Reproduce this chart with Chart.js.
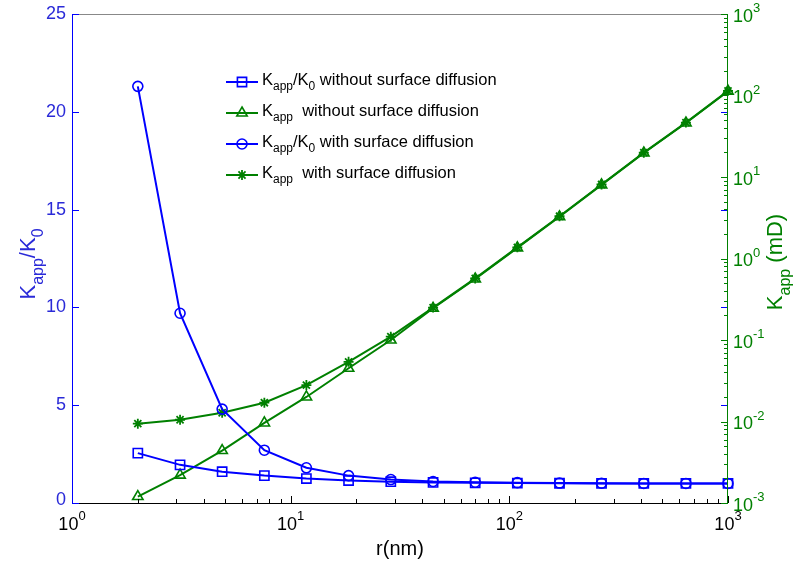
<!DOCTYPE html>
<html>
<head>
<meta charset="utf-8">
<script src="https://cdn.jsdelivr.net/npm/chart.js@4"></script>
<style>
  body { margin: 0; background: #fff; }
  canvas { display: block; }
</style>
</head>
<body>
<canvas id="grafico" width="797" height="562"></canvas>
<script>
// radios (nm)
const radios = [2, 3.12, 4.86, 7.58, 11.8, 18.4, 28.7, 44.8, 69.8, 108.8, 169.6, 264, 412, 642, 1000];
// Kapp/K0 (eje izquierdo)
const ratioSinDifusion = [2.55, 1.95, 1.6, 1.4, 1.25, 1.15, 1.09, 1.05, 1.03, 1.02, 1.01, 1.0, 1.0, 1.0, 1.0];
const ratioConDifusion = [21.3, 9.7, 4.8, 2.7, 1.8, 1.4, 1.2, 1.1, 1.06, 1.04, 1.02, 1.01, 1.0, 1.0, 1.0];
// Kapp en mD (eje derecho, log)
const kappSinDifusion = [0.0012, 0.0022, 0.0044, 0.0096, 0.020, 0.045, 0.10, 0.245, 0.56, 1.35, 3.25, 8.0, 19.7, 46, 113];
const kappConDifusion = [0.0094, 0.0105, 0.0128, 0.017, 0.028, 0.054, 0.11, 0.25, 0.57, 1.37, 3.3, 8.1, 19.9, 46.5, 114];
// ticks
const ticksX = [1, 10, 100, 1000];
const ticksIzq = [0, 5, 10, 15, 20, 25];
const ticksDer = [0.001, 0.01, 0.1, 1, 10, 100, 1000];

const AZUL = '#0000ff';
const VERDE = '#008000';
const FUENTE = '"Liberation Sans", Arial, sans-serif';

function puntos(ys) {
  return radios.map((x, i) => ({ x: x, y: ys[i] }));
}

// texto con sub/superindices: partes = [[texto, 'n'|'sub'|'sup'], ...]
function textoRico(ctx, partes, x, y, size, align) {
  const medir = p => {
    ctx.font = (p[1] === 'n' ? size : Math.round(size * 0.72)) + 'px ' + FUENTE;
    return ctx.measureText(p[0]).width;
  };
  const total = partes.reduce((s, p) => s + medir(p), 0);
  let cx = align === 'center' ? x - total / 2 : (align === 'right' ? x - total : x);
  ctx.textAlign = 'left';
  ctx.textBaseline = 'middle';
  partes.forEach(p => {
    const w = medir(p);
    let dy = 0;
    if (p[1] === 'sub') dy = size * 0.42;
    if (p[1] === 'sup') dy = -size * 0.45;
    ctx.fillText(p[0], cx, y + dy);
    cx += w;
  });
}

const ejesPlugin = {
  id: 'ejes',
  afterDraw(chart) {
    const ctx = chart.ctx;
    const a = chart.chartArea;
    const sx = chart.scales.x, sy = chart.scales.y, sy2 = chart.scales.y2;
    ctx.save();
    ctx.lineWidth = 1;

    // marco superior
    ctx.strokeStyle = '#888';
    ctx.beginPath(); ctx.moveTo(a.left, a.top + 0.5); ctx.lineTo(a.right, a.top + 0.5); ctx.stroke();

    // eje x
    ctx.strokeStyle = '#000';
    ctx.beginPath(); ctx.moveTo(a.left, a.bottom + 0.5); ctx.lineTo(a.right, a.bottom + 0.5); ctx.stroke();
    for (let d = 1; d < 1000; d *= 10) {
      for (let m = 1; m <= 10; m++) {
        const px = Math.round(sx.getPixelForValue(d * m)) + 0.5;
        const len = (m === 1 || m === 10) ? 7 : 4;
        ctx.beginPath(); ctx.moveTo(px, a.bottom); ctx.lineTo(px, a.bottom - len); ctx.stroke();
      }
    }
    ctx.fillStyle = '#000';
    ticksX.forEach(v => {
      const px = sx.getPixelForValue(v);
      textoRico(ctx, [['10', 'n'], [String(Math.round(Math.log10(v))), 'sup']], px, a.bottom + 22, 18, 'center');
    });
    ctx.font = '20px ' + FUENTE;
    ctx.textAlign = 'center'; ctx.textBaseline = 'middle';
    ctx.fillText('r(nm)', (a.left + a.right) / 2, a.bottom + 46);

    // eje izquierdo
    ctx.strokeStyle = AZUL;
    ctx.beginPath(); ctx.moveTo(a.left + 0.5, a.top); ctx.lineTo(a.left + 0.5, a.bottom); ctx.stroke();
    ctx.fillStyle = '#2a2ad8';
    ticksIzq.forEach(v => {
      const py = Math.round(sy.getPixelForValue(v)) + 0.5;
      ctx.beginPath(); ctx.moveTo(a.left, py); ctx.lineTo(a.left + 7, py); ctx.stroke();
      ctx.beginPath(); ctx.moveTo(a.right, py); ctx.lineTo(a.right - 7, py); ctx.stroke();
      ctx.font = '18px ' + FUENTE;
      ctx.textAlign = 'right'; ctx.textBaseline = 'middle';
      ctx.fillText(String(v), a.left - 6, py - (v === 0 ? 3 : 0));
    });
    ctx.save();
    ctx.translate(29, 264);
    ctx.rotate(-Math.PI / 2);
    textoRico(ctx, [['K', 'n'], ['app', 'sub'], ['/K', 'n'], ['0', 'sub']], 0, 0, 22, 'center');
    ctx.restore();

    // eje derecho (log)
    ctx.strokeStyle = VERDE;
    ctx.beginPath(); ctx.moveTo(a.right - 0.5, a.top); ctx.lineTo(a.right - 0.5, a.bottom); ctx.stroke();
    for (let d = 0.001; d < 999; d *= 10) {
      for (let m = 1; m <= 10; m++) {
        const py = Math.round(sy2.getPixelForValue(d * m)) + 0.5;
        const len = (m === 1 || m === 10) ? 7 : 4;
        ctx.beginPath(); ctx.moveTo(a.right, py); ctx.lineTo(a.right - len, py); ctx.stroke();
      }
    }
    ctx.fillStyle = VERDE;
    ticksDer.forEach(v => {
      const py = sy2.getPixelForValue(v);
      textoRico(ctx, [['10', 'n'], [String(Math.round(Math.log10(v))), 'sup']], a.right + 5, py + 3, 18, 'left');
    });
    ctx.save();
    ctx.translate(776, 262);
    ctx.rotate(-Math.PI / 2);
    textoRico(ctx, [['K', 'n'], ['app', 'sub'], [' (mD)', 'n']], 0, 0, 22, 'center');
    ctx.restore();

    // leyenda
    const filas = [
      [0, [['K', 'n'], ['app', 'sub'], ['/K', 'n'], ['0', 'sub'], [' without surface diffusion', 'n']]],
      [2, [['K', 'n'], ['app', 'sub'], ['  without surface diffusion', 'n']]],
      [1, [['K', 'n'], ['app', 'sub'], ['/K', 'n'], ['0', 'sub'], [' with surface diffusion', 'n']]],
      [3, [['K', 'n'], ['app', 'sub'], ['  with surface diffusion', 'n']]]
    ];
    filas.forEach((f, i) => {
      const ds = chart.data.datasets[f[0]];
      const y = 82 + i * 31;
      ctx.strokeStyle = ds.borderColor;
      ctx.lineWidth = 2;
      ctx.beginPath(); ctx.moveTo(226, y); ctx.lineTo(258, y); ctx.stroke();
      ctx.lineWidth = ds.pointBorderWidth;
      ctx.fillStyle = 'rgba(0,0,0,0)';
      Chart.helpers.drawPoint(ctx, { pointStyle: ds.pointStyle, radius: ds.pointRadius, borderWidth: ds.pointBorderWidth, rotation: 0 }, 242, y);
      ctx.fillStyle = '#000';
      textoRico(ctx, f[1], 262, y - 2, 16.5, 'left');
    });

    ctx.restore();
  }
};

const ctx = document.getElementById('grafico').getContext('2d');
const miGrafico = new Chart(ctx, {
  type: 'line',
  data: {
    datasets: [
      { label: 'Kapp/K0 without surface diffusion', data: puntos(ratioSinDifusion), yAxisID: 'y',
        borderColor: AZUL, pointBorderColor: AZUL, pointBackgroundColor: 'rgba(0,0,0,0)',
        pointStyle: 'rect', pointRadius: 6.5, pointBorderWidth: 1.6, borderWidth: 2 },
      { label: 'Kapp/K0 with surface diffusion', data: puntos(ratioConDifusion), yAxisID: 'y',
        borderColor: AZUL, pointBorderColor: AZUL, pointBackgroundColor: 'rgba(0,0,0,0)',
        pointStyle: 'circle', pointRadius: 5, pointBorderWidth: 1.6, borderWidth: 2 },
      { label: 'Kapp without surface diffusion', data: puntos(kappSinDifusion), yAxisID: 'y2',
        borderColor: VERDE, pointBorderColor: VERDE, pointBackgroundColor: 'rgba(0,0,0,0)',
        pointStyle: 'triangle', pointRadius: 6, pointBorderWidth: 1.6, borderWidth: 2 },
      { label: 'Kapp with surface diffusion', data: puntos(kappConDifusion), yAxisID: 'y2',
        borderColor: VERDE, pointBorderColor: VERDE, pointBackgroundColor: 'rgba(0,0,0,0)',
        pointStyle: 'star', pointRadius: 5, pointBorderWidth: 1.8, borderWidth: 2 }
    ]
  },
  options: {
    responsive: false,
    animation: false,
    devicePixelRatio: 1,
    layout: { padding: { left: 72, right: 69, top: 14, bottom: 59 } },
    elements: { line: { tension: 0 } },
    datasets: { line: { clip: false } },
    plugins: { legend: { display: false }, tooltip: { enabled: false } },
    scales: {
      x: { type: 'logarithmic', min: 1, max: 1000, display: false },
      y: { type: 'linear', position: 'left', min: 0, max: 25, display: false },
      y2: { type: 'logarithmic', position: 'right', min: 0.001, max: 1000, display: false }
    }
  },
  plugins: [ejesPlugin]
});
</script>
</body>
</html>
